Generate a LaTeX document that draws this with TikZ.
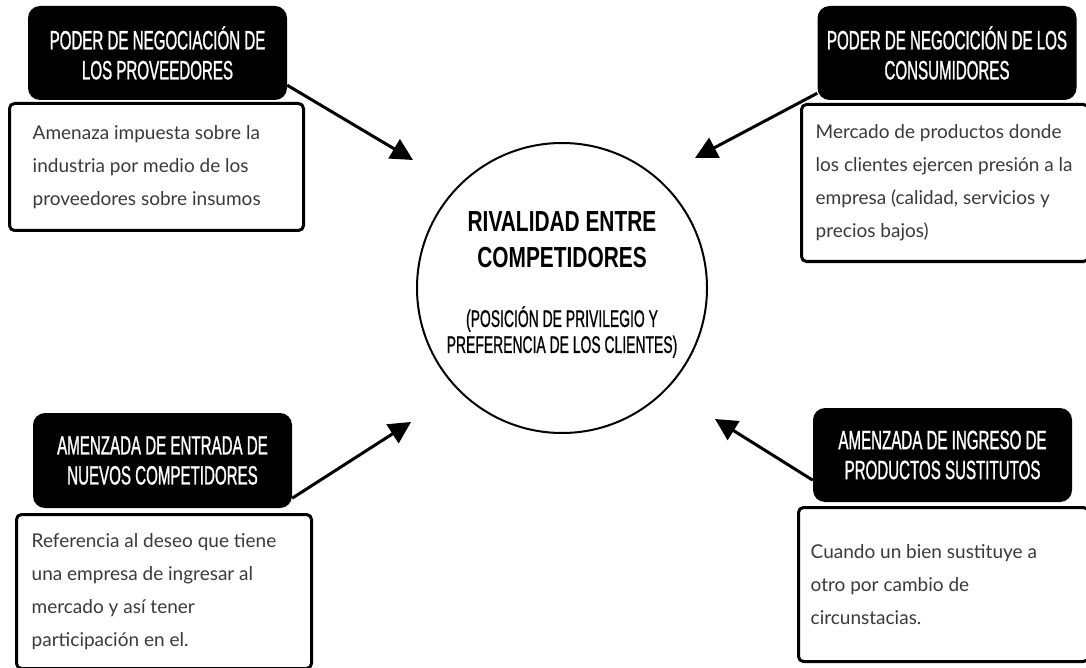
\documentclass[tikz,border=0pt]{standalone}
\usepackage{fontspec}
\setmainfont{Lato}
\newfontfamily\headfont[FakeStretch=0.57,FakeBold=1]{Liberation Sans}
\newfontfamily\titlefont[FakeStretch=0.72]{Liberation Sans}
\newfontfamily\subfont[FakeStretch=0.58,FakeBold=0.8]{Liberation Sans}
\usepackage{tikz}
\usetikzlibrary{arrows.meta,shapes}
\definecolor{bodygray}{HTML}{3A3A3A}

\begin{document}
\begin{tikzpicture}[x=1pt,y=-1pt,
  head/.style={fill=black,rounded corners=12pt,minimum width=259pt,minimum height=94pt,inner sep=0pt,
    text=white,align=center,font=\headfont\fontsize{26.5}{30}\selectfont},
  card/.style={draw=black,line width=3pt,fill=white,rounded corners=5pt,inner sep=0pt},
  cardtext/.style={anchor=west,inner sep=0pt,align=left,text=bodygray,font=\fontsize{19}{33}\selectfont},
  pointer/.style={line width=3pt,-{Triangle[length=22pt,width=22pt]}}]
  \useasboundingbox (0,0) rectangle (1086,668);
  % centre
  \node[circle,draw,line width=2pt,minimum size=290pt,inner sep=0pt] (rival) at (562,288) {};
  \node[align=center,font=\titlefont\bfseries\fontsize{29}{36}\selectfont] (rivaltitle) at (562,240) {RIVALIDAD ENTRE\\COMPETIDORES};
  \node[align=center,font=\subfont\fontsize{24}{26}\selectfont] (rivalsub) at (562,332) {(POSICIÓN DE PRIVILEGIO Y\\PREFERENCIA DE LOS CLIENTES)};
  % proveedores
  \node[head] (pnp) at (157.5,53) {PODER DE NEGOCIACIÓN DE\\LOS PROVEEDORES};
  \node[card,minimum width=294pt,minimum height=127pt] (pnpbox) at (156.5,167) {};
  \node[cardtext] (pnptext) at ([xshift=24.5pt]pnpbox.west) {Amenaza impuesta sobre la\\industria por medio de los\\proveedores sobre insumos};
  % consumidores
  \node[head] (pnc) at (947,53) {PODER DE NEGOCICIÓN DE LOS\\CONSUMIDORES};
  \node[card,minimum width=287pt,minimum height=157pt] (pncbox) at (945,183) {};
  \node[cardtext] (pnctext) at ([xshift=15.5pt]pncbox.west) {Mercado de productos donde\\los clientes ejercen presión a la\\empresa (calidad, servicios y\\precios bajos)};
  % nuevos competidores
  \node[head,minimum height=95pt] (nue) at (162.5,460.5) {AMENZADA DE ENTRADA DE\\NUEVOS COMPETIDORES};
  \node[card,minimum width=295pt,minimum height=154pt] (nuebox) at (164,591.5) {};
  \node[cardtext] (nuetext) at ([xshift=16.5pt]nuebox.west) {Referencia al deseo que tiene\\una empresa de ingresar al\\mercado y así tener\\participación en el.};
  % sustitutos
  \node[head] (sus) at (942.5,455) {AMENZADA DE INGRESO DE\\PRODUCTOS SUSTITUTOS};
  \node[card,minimum width=290pt,minimum height=154pt] (susbox) at (943.5,584.5) {};
  \node[cardtext] (sustext) at ([xshift=13.5pt]susbox.west) {Cuando un bien sustituye a\\otro por cambio de\\circunstacias.};
  % arrows
  \coordinate (tipa) at (413,160);
  \coordinate (tipb) at (695,158);
  \coordinate (tipc) at (411,422);
  \coordinate (tipd) at (715,419);
  \draw[pointer] ([yshift=15pt]pnp.south east) -- (tipa);
  \draw[pointer] ([yshift=7pt]pnc.south west) -- (tipb);
  \draw[pointer] ([yshift=10pt]nue.south east) -- (tipc);
  \draw[pointer] ([yshift=22pt]sus.south west) -- (tipd);
\end{tikzpicture}
\end{document}
